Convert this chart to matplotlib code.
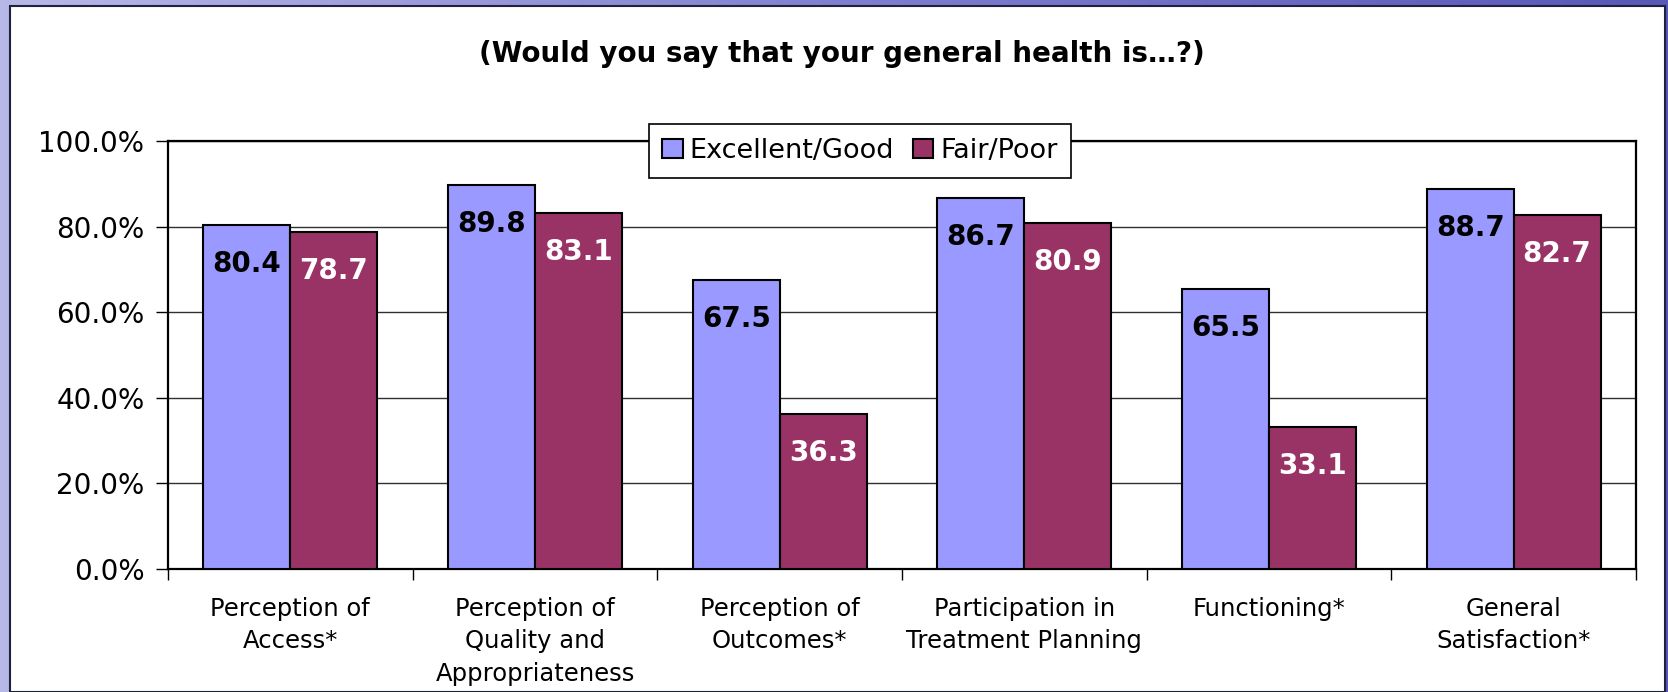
import numpy as np
import matplotlib.pyplot as plt
from matplotlib.patches import Rectangle

# survey domains and percent positive by self-rated health
categories = ["Perception of\nAccess*", "Perception of\nQuality and\nAppropriateness",
              "Perception of\nOutcomes*", "Participation in\nTreatment Planning",
              "Functioning*", "General\nSatisfaction*"]
excellent_good = [80.4, 89.8, 67.5, 86.7, 65.5, 88.7]
fair_poor = [78.7, 83.1, 36.3, 80.9, 33.1, 82.7]
series_names = ["Excellent/Good", "Fair/Poor"]
yticks = [0, 20, 40, 60, 80, 100]

blue = "#9999FF"
plum = "#993366"

fig = plt.figure(figsize=(16.68, 6.92), dpi=100)

# slide background behind the white panel
bg = fig.add_axes([0, 0, 1, 1])
grad = np.linspace(0, 1, 256).reshape(1, -1)
bg.imshow(grad, aspect="auto", cmap=plt.matplotlib.colors.LinearSegmentedColormap.from_list(
    "slide", ["#b8b8e8", "#8080d0", "#5858b8"]), extent=[0, 1, 0, 1])
bg.set_xlim(0, 1)
bg.set_ylim(0, 1)
bg.axis("off")
fig.patches.append(Rectangle((10 / 1668, 0), 1655 / 1668, 686 / 692, transform=fig.transFigure,
                             facecolor="white", edgecolor="#202040", linewidth=1.5, zorder=1))

ax = fig.add_axes([168 / 1668, 1 - 569 / 692, 1468 / 1668, 428 / 692])
ax.set_zorder(2)

x = np.arange(len(categories))
w = 0.355
b1 = ax.bar(x - w / 2, excellent_good, w, color=blue, edgecolor="black", linewidth=1.5,
            label=series_names[0], zorder=3)
b2 = ax.bar(x + w / 2, fair_poor, w, color=plum, edgecolor="black", linewidth=1.5,
            label=series_names[1], zorder=3)

for bars, vals, col in [(b1, excellent_good, "black"), (b2, fair_poor, "white")]:
    for rect, v in zip(bars, vals):
        ax.annotate(f"{v:.1f}", (rect.get_x() + rect.get_width() / 2, v),
                    xytext=(0, -28), textcoords="offset points", ha="center", va="center",
                    fontsize=20, fontweight="bold", color=col, zorder=4)

ax.set_xlim(-0.5, len(categories) - 0.5)
ax.set_ylim(0, 100)
ax.set_yticks(yticks)
ax.set_yticklabels([f"{t:.1f}%" for t in yticks], fontsize=20)
ax.yaxis.grid(True, color="#303030", linewidth=1, zorder=0)
ax.set_axisbelow(True)

ax.set_xticks(x)
ax.set_xticklabels(categories, fontsize=17.5, linespacing=1.45, va="top")
ax.set_xticks(np.arange(len(categories) + 1) - 0.5, minor=True)
ax.tick_params(axis="x", which="major", length=0, pad=20)
ax.tick_params(axis="x", which="minor", length=8, width=1, direction="out")
ax.tick_params(axis="y", length=9, width=1, direction="out", pad=8)
for s in ax.spines.values():
    s.set_linewidth(1.6)

fig.text(842 / 1668, 1 - 54 / 692, "(Would you say that your general health is…?)",
         ha="center", va="center", fontsize=20, fontweight="bold")

leg = ax.legend(loc="center", bbox_to_anchor=(860 / 1668, 1 - 151 / 692),
                bbox_transform=fig.transFigure, ncol=2, fontsize=19.5, frameon=True,
                fancybox=False, edgecolor="black", framealpha=1, handlelength=0.75,
                handleheight=0.75, handletextpad=0.25, columnspacing=0.7, borderpad=0.5,
                borderaxespad=0)
leg.get_frame().set_linewidth(1.2)
leg.set_zorder(5)

fig.savefig("out.png", dpi=100)
